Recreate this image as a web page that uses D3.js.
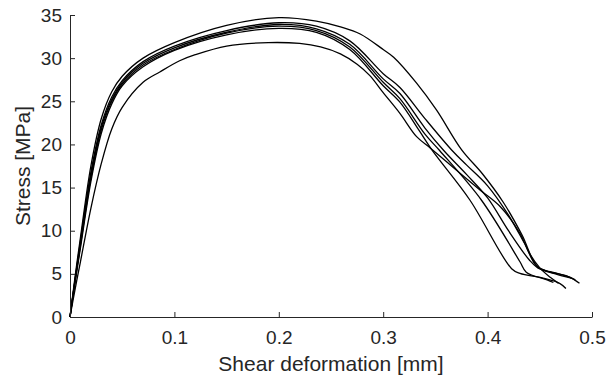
<!DOCTYPE html>
<html><head><meta charset="utf-8">
<script src="https://cdn.jsdelivr.net/npm/d3@7"></script>
<style>body{margin:0;background:#fff}svg{display:block}text{font-family:"Liberation Sans",Arial,Helvetica,sans-serif;fill:#262626}</style>
</head><body>
<script>
const xTicks = [0, 0.1, 0.2, 0.3, 0.4, 0.5];
const yTicks = [0, 5, 10, 15, 20, 25, 30, 35];
const xLabel = "Shear deformation [mm]";
const yLabel = "Stress [MPa]";

const specimen1 = [[0,0],[0.005,4.8],[0.01,9.2],[0.02,17.5],[0.03,23],[0.04,26.1],[0.05,27.9],[0.07,30.0],[0.1,31.8],[0.15,33.8],[0.2,34.7],[0.236,34.3],[0.26,33.6],[0.278,32.8],[0.3,31.0],[0.31,30.1],[0.332,27.1],[0.351,24.0],[0.375,19.4],[0.395,16.6],[0.415,13.3],[0.433,9.5],[0.448,5.8],[0.465,5.1],[0.479,4.6],[0.488,3.9]];
const specimen2 = [[0,0],[0.005,4.5],[0.01,8.8],[0.02,16.8],[0.03,22.3],[0.04,25.5],[0.05,27.4],[0.07,29.6],[0.1,31.4],[0.15,33.2],[0.2,34.1],[0.236,33.7],[0.268,32.0],[0.3,28.2],[0.316,26.6],[0.34,23.0],[0.366,19.3],[0.38,17.6],[0.40,15.2],[0.42,11.8],[0.435,8.6],[0.447,5.9],[0.46,5.2],[0.475,4.8],[0.484,4.3]];
const specimen3 = [[0,0],[0.005,4.4],[0.01,8.5],[0.02,16.4],[0.03,22.0],[0.04,25.2],[0.05,27.2],[0.07,29.4],[0.1,31.2],[0.15,33.0],[0.2,33.9],[0.236,33.4],[0.268,31.6],[0.3,27.6],[0.316,25.9],[0.34,21.9],[0.358,19.3],[0.38,16.5],[0.40,13.8],[0.42,10.0],[0.44,6.6],[0.448,5.7],[0.465,5.0],[0.48,4.5]];
const specimen4 = [[0,0],[0.005,4.3],[0.01,8.3],[0.02,16.1],[0.03,21.7],[0.04,25.0],[0.05,27.0],[0.07,29.2],[0.1,31.0],[0.15,32.9],[0.2,33.7],[0.236,33.2],[0.268,31.3],[0.3,27.2],[0.316,25.3],[0.34,21.2],[0.354,19.3],[0.394,13.56],[0.431,6.4],[0.437,5.2],[0.457,4.3],[0.463,4.0]];
const specimen5 = [[0,0],[0.005,4.1],[0.01,8.0],[0.02,15.7],[0.03,21.3],[0.04,24.7],[0.05,26.8],[0.07,29.0],[0.1,30.9],[0.15,32.7],[0.2,33.45],[0.236,33.0],[0.268,31.0],[0.3,26.8],[0.316,24.9],[0.335,21.5],[0.347,19.3],[0.383,13.56],[0.423,5.6],[0.431,5.06],[0.453,4.5],[0.469,3.9],[0.475,3.3]];
const specimen6 = [[0,0],[0.005,3.3],[0.01,6.4],[0.02,12.6],[0.03,17.8],[0.04,21.8],[0.05,24.3],[0.07,27.2],[0.086,28.4],[0.105,29.7],[0.12,30.4],[0.15,31.4],[0.19,31.8],[0.22,31.7],[0.24,31.3],[0.259,30.5],[0.275,29.3],[0.287,28.0],[0.3,26.0],[0.316,23.6],[0.332,20.9],[0.345,19.6],[0.361,17.95],[0.393,14.7],[0.412,12.8],[0.431,9.7],[0.44,7.4],[0.45,5.7],[0.46,4.6],[0.468,3.9]];
const specimens = [specimen1, specimen2, specimen3, specimen4, specimen5, specimen6];

const W = 606, H = 381;
const m = {left: 70, right: 14, top: 15, bottom: 64};
const svg = d3.select("body").append("svg").attr("width", W).attr("height", H);
const x = d3.scaleLinear().domain([0, 0.5]).range([m.left, W - m.right]);
const y = d3.scaleLinear().domain([0, 35]).range([H - m.bottom, m.top]);

const line = d3.line().x(d => x(d[0])).y(d => y(d[1])).curve(d3.curveCatmullRom.alpha(0.5));
svg.append("g").selectAll("path").data(specimens).join("path")
  .attr("d", line).attr("fill", "none").attr("stroke", "#000").attr("stroke-width", 1.3);

const xAxis = svg.append("g").attr("transform", `translate(0,${H - m.bottom})`)
  .call(d3.axisBottom(x).tickValues(xTicks).tickFormat(d => d === 0 ? "0" : d3.format(".1f")(d)).tickSizeInner(-5).tickSizeOuter(0).tickPadding(14));
const yAxis = svg.append("g").attr("transform", `translate(${m.left},0)`)
  .call(d3.axisLeft(y).tickValues(yTicks).tickSizeInner(-5).tickSizeOuter(0).tickPadding(8));
[xAxis, yAxis].forEach(a => {
  a.selectAll("path,line").attr("stroke", "#262626").attr("stroke-width", 1);
  a.selectAll("text").attr("font-size", 19).attr("font-family", "Liberation Sans, Arial, sans-serif").attr("fill", "#262626");
});

svg.append("text").attr("x", (m.left + W - m.right) / 2).attr("y", 371)
  .attr("text-anchor", "middle").attr("font-size", 21).text(xLabel);
svg.append("text").attr("transform", `translate(30,${(m.top + H - m.bottom) / 2}) rotate(-90)`)
  .attr("text-anchor", "middle").attr("font-size", 21).text(yLabel);
</script>
</body></html>
